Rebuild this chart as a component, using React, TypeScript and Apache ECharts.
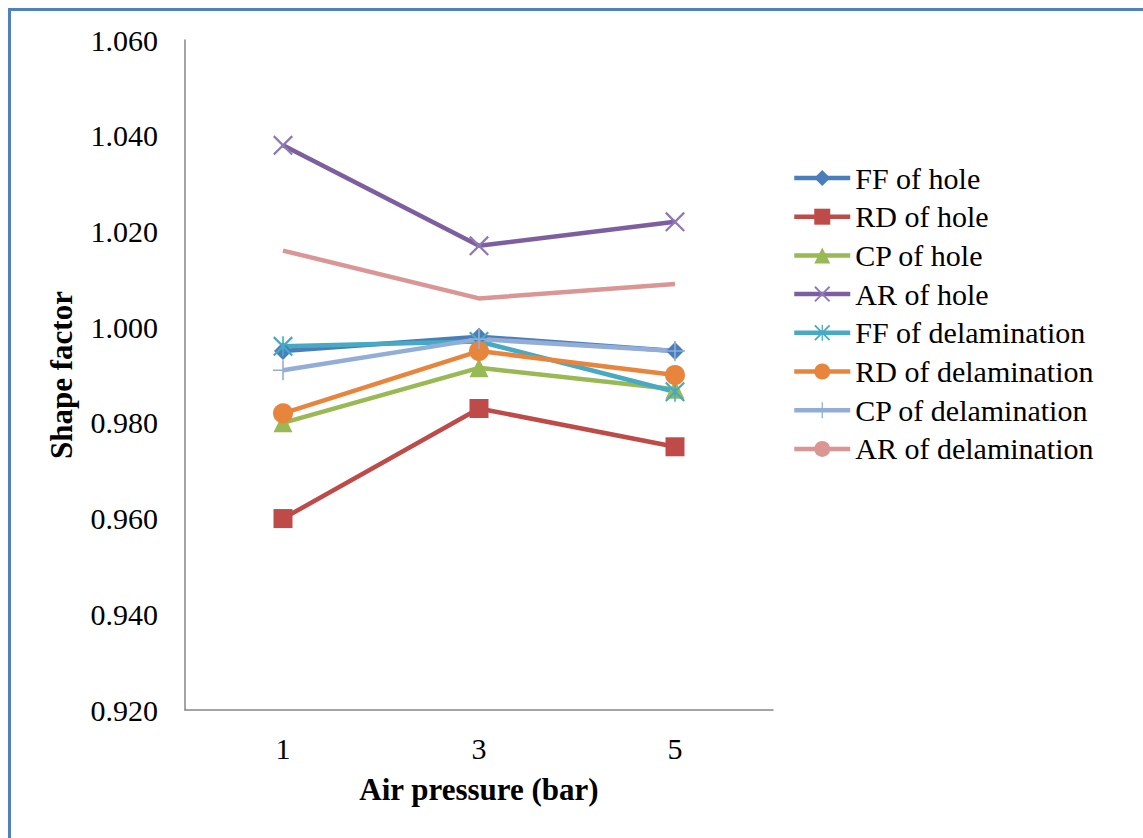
import React, { useEffect, useRef } from "react";
import * as echarts from "echarts";

const categories = ["1", "3", "5"];
const seriesNames = [
  "FF of hole",
  "RD of hole",
  "CP of hole",
  "AR of hole",
  "FF of delamination",
  "RD of delamination",
  "CP of delamination",
  "AR of delamination",
];
const ffHole = [0.995, 0.998, 0.995];
const rdHole = [0.96, 0.983, 0.975];
const cpHole = [0.98, 0.9915, 0.987];
const arHole = [1.038, 1.017, 1.022];
const ffDelam = [0.996, 0.997, 0.9865];
const rdDelam = [0.982, 0.995, 0.99];
const cpDelam = [0.991, 0.9975, 0.995];
const arDelam = [1.016, 1.006, 1.009];
const yTicks = { min: 0.92, max: 1.06, interval: 0.02 };

const colors = ["#4A7EBB", "#BE4B48", "#98B954", "#7D5FA0", "#46AAC5", "#E8853D", "#93ADD7", "#D99694"];
const markerColors = ["#4A7EBB", "#BE4B48", "#98B954", "#8E78B5", "#46AAC5", "#E8853D", "#93ADD7", "#D99694"];

const X_PATH = "path://M0,0.8 L0.8,0 L10,9.2 L9.2,10 Z M9.2,0 L10,0.8 L0.8,10 L0,9.2 Z";
const STAR_PATH = X_PATH.replace("path://", "path://M4.6,0 L5.4,0 L5.4,10 L4.6,10 Z ");
const PLUS_PATH = "path://M4.6,0 L5.4,0 L5.4,10 L4.6,10 Z M0,4.6 L10,4.6 L10,5.4 L0,5.4 Z";

const symbols = ["diamond", "rect", "triangle", X_PATH, STAR_PATH, "circle", PLUS_PATH, "none"];
const symbolSizes = [18, 19, 19, 20, 20, 20, 20, 0];
const dataSets = [ffHole, rdHole, cpHole, arHole, ffDelam, rdDelam, cpDelam, arDelam];

export default function App() {
  const ref = useRef<HTMLDivElement>(null);
  useEffect(() => {
    document.body.style.margin = "0";
    if (!ref.current) return;
    const chart = echarts.init(ref.current, undefined, { renderer: "svg" });
    const font = "'Liberation Serif', 'Times New Roman', serif";
    chart.setOption({
      animation: false,
      backgroundColor: "#ffffff",
      textStyle: { fontFamily: font },
      graphic: [
        {
          type: "rect",
          shape: { x: 9.5, y: 9.5, width: 1300, height: 1000 },
          style: { fill: "none", stroke: "#4F81BD", lineWidth: 3 },
          silent: true,
        },
      ],
      grid: { left: 185, right: 370, top: 40, bottom: 128, containLabel: false },
      legend: {
        orient: "vertical",
        left: 787,
        top: 158,
        itemWidth: 56,
        itemHeight: 20,
        itemGap: 8.7,
        lineStyle: { width: 4.5 },
        textStyle: { fontFamily: font, fontSize: 30, color: "#000", lineHeight: 30 },
        data: seriesNames,
      },
      xAxis: {
        type: "category",
        data: categories,
        boundaryGap: true,
        name: "Air pressure (bar)",
        nameLocation: "middle",
        nameGap: 64,
        nameTextStyle: { fontFamily: font, fontSize: 31, fontWeight: "bold", color: "#000" },
        axisLine: { lineStyle: { color: "#868686", width: 1.5 } },
        axisTick: { show: false },
        axisLabel: { fontFamily: font, fontSize: 30, color: "#000", margin: 23 },
        splitLine: { show: false },
      },
      yAxis: {
        type: "value",
        min: yTicks.min,
        max: yTicks.max,
        interval: yTicks.interval,
        name: "Shape factor",
        nameLocation: "middle",
        nameGap: 108,
        nameRotate: 90,
        nameTextStyle: { fontFamily: font, fontSize: 31, fontWeight: "bold", color: "#000" },
        axisLine: { show: true, lineStyle: { color: "#868686", width: 1.5 } },
        axisTick: { show: false },
        axisLabel: {
          fontFamily: font,
          fontSize: 30,
          color: "#000",
          margin: 27,
          formatter: (v: number) => v.toFixed(3),
        },
        splitLine: { show: false },
      },
      series: seriesNames.map((name, i) => ({
        name,
        type: "line",
        data: dataSets[i],
        symbol: symbols[i],
        symbolSize: symbolSizes[i],
        showSymbol: symbols[i] !== "none",
        lineStyle: { color: colors[i], width: 4.5 },
        itemStyle: { color: markerColors[i] },
        emphasis: { disabled: true },
      })),
    });
    return () => chart.dispose();
  }, []);
  return <div ref={ref} style={{ width: 1143, height: 838 }} />;
}
